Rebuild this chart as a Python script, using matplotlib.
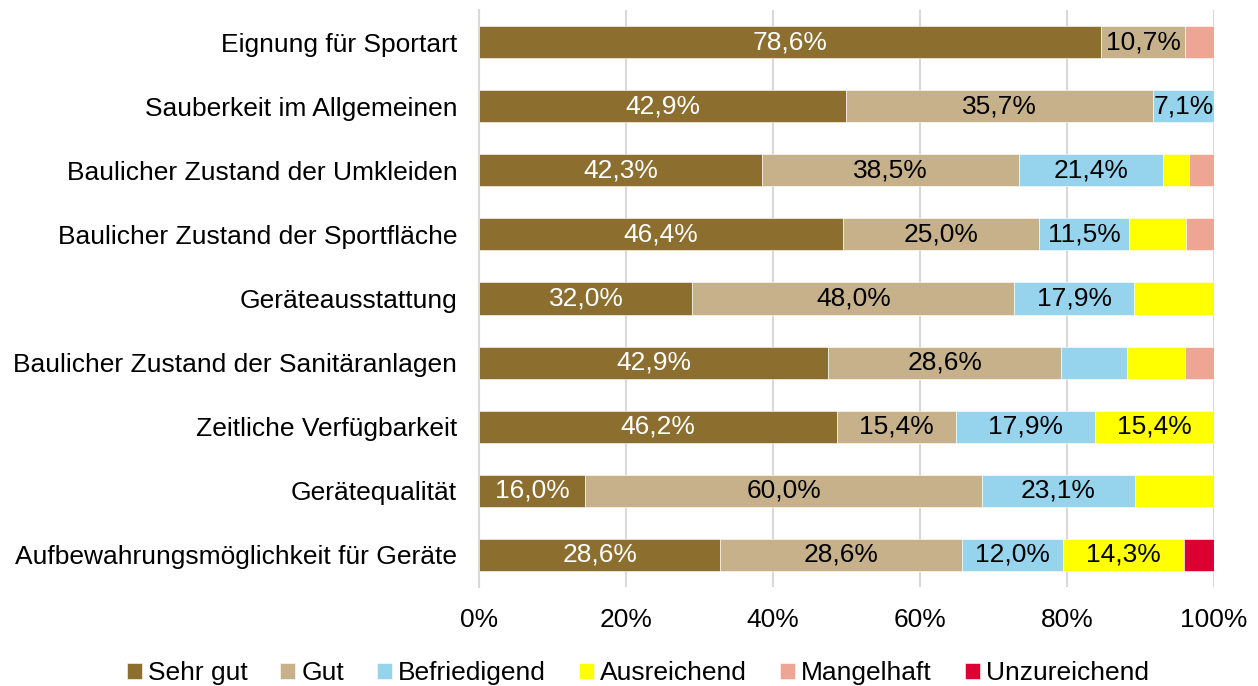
import matplotlib
matplotlib.use("Agg")
import matplotlib.pyplot as plt
import numpy as np

plt.rcParams['font.family'] = ['Liberation Sans', 'DejaVu Sans']

categories = ["Eignung für Sportart", "Sauberkeit im Allgemeinen",
              "Baulicher Zustand der Umkleiden", "Baulicher Zustand der Sportfläche",
              "Geräteausstattung", "Baulicher Zustand der Sanitäranlagen",
              "Zeitliche Verfügbarkeit", "Gerätequalität",
              "Aufbewahrungsmöglichkeit für Geräte"]
series_names = ["Sehr gut", "Gut", "Befriedigend", "Ausreichend", "Mangelhaft", "Unzureichend"]
colors = ["#8C6F2F", "#C6B18B", "#96D4EE", "#FFFF00", "#EFA593", "#DC0032"]

sehr_gut = [84.6, 49.9, 38.5, 49.5, 29.0, 47.5, 48.7, 14.4, 32.8]
gut = [11.5, 41.8, 35.0, 26.7, 43.8, 31.7, 16.2, 54.0, 32.9]
befriedigend = [0, 8.3, 19.5, 12.3, 16.3, 8.9, 18.9, 20.8, 13.7]
ausreichend = [0, 0, 3.6, 7.7, 10.9, 8.0, 16.2, 10.8, 16.5]
mangelhaft = [3.9, 0, 3.4, 3.8, 0, 3.9, 0, 0, 0]
unzureichend = [0, 0, 0, 0, 0, 0, 0, 0, 4.1]

lab_sehr_gut = ["78,6%", "42,9%", "42,3%", "46,4%", "32,0%", "42,9%", "46,2%", "16,0%", "28,6%"]
lab_gut = ["10,7%", "35,7%", "38,5%", "25,0%", "48,0%", "28,6%", "15,4%", "60,0%", "28,6%"]
lab_befriedigend = ["", "7,1%", "21,4%", "11,5%", "17,9%", "", "17,9%", "23,1%", "12,0%"]
lab_ausreichend = ["", "", "", "", "", "", "15,4%", "", "14,3%"]
lab_mangelhaft = [""] * 9
lab_unzureichend = [""] * 9

tick_labels = ["0%", "20%", "40%", "60%", "80%", "100%"]

series = [sehr_gut, gut, befriedigend, ausreichend, mangelhaft, unzureichend]
labels = [lab_sehr_gut, lab_gut, lab_befriedigend, lab_ausreichend, lab_mangelhaft, lab_unzureichend]
label_colors = ["white", "black", "black", "black", "black", "black"]

fig = plt.figure(figsize=(12.58, 6.86), dpi=100)
ax = fig.add_axes([0.3811, 0.1443, 0.965 - 0.3811, 0.9854 - 0.1443])

y = np.arange(len(categories))
left = np.zeros(len(categories))
FS = 19
for vals, name, col, labs, lc in zip(series, series_names, colors, labels, label_colors):
    vals = np.array(vals, dtype=float)
    bars = ax.barh(y, vals, left=left, height=0.5, color=col, label=name,
                   edgecolor='white', linewidth=0.4, zorder=3)
    ax.bar_label(bars, labels=labs, label_type='center', color=lc, fontsize=FS)
    left += vals

ax.set_xlim(0, 100)
ax.set_ylim(len(categories) - 0.5, -0.5)
ax.set_yticks(y)
ax.set_yticklabels(categories, fontsize=FS)
ax.set_xticks(np.linspace(0, 100, len(tick_labels)))
ax.set_xticklabels(tick_labels, fontsize=FS)
ax.tick_params(axis='both', length=0)
ax.tick_params(axis='y', pad=16)
ax.tick_params(axis='x', pad=15)
ax.grid(axis='x', color='#D9D9D9', linewidth=1.5, zorder=0)
for s in ['top', 'right', 'bottom']:
    ax.spines[s].set_visible(False)
ax.spines['left'].set_color('#D9D9D9')
ax.spines['left'].set_linewidth(1.5)

fig.legend(loc='lower center', bbox_to_anchor=(0.507, -0.033), ncol=6, frameon=False,
           fontsize=FS, handlelength=0.57, handleheight=0.55, handletextpad=0.23,
           columnspacing=1.25)

fig.savefig("out.png", dpi=100)
